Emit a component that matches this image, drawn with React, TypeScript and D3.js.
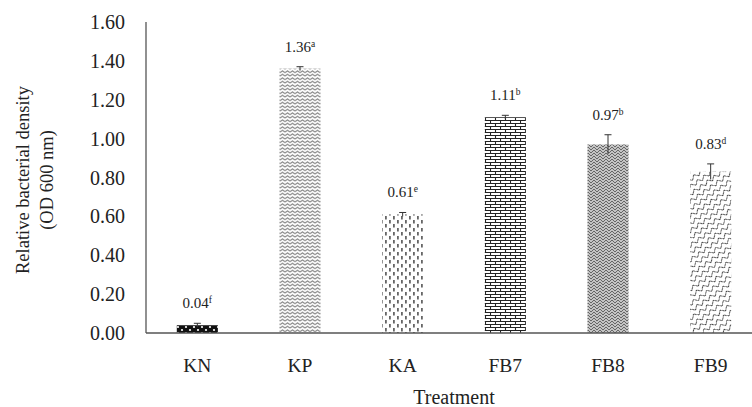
import * as d3 from 'd3';

const treatments = ['KN', 'KP', 'KA', 'FB7', 'FB8', 'FB9'];
const density = [0.04, 1.36, 0.61, 1.11, 0.97, 0.83];
const errors = [0.01, 0.01, 0.01, 0.01, 0.05, 0.04];
const letters = ['f', 'a', 'e', 'b', 'b', 'd'];
const yTicks = [0, 0.2, 0.4, 0.6, 0.8, 1.0, 1.2, 1.4, 1.6];

const W = 752;
const H = 407;
const font = '"Liberation Serif", "Times New Roman", serif';

const x = d3.scaleBand<string>().domain(treatments).range([146, 762]).paddingInner(0.6).paddingOuter(0.3);
const y = d3.scaleLinear().domain([0, 1.6]).range([333, 22]);
const fmt = d3.format('.2f');

function Patterns() {
  return (
    <defs>
      <pattern id="p0" width="8" height="6" patternUnits="userSpaceOnUse">
        <rect width="8" height="6" fill="#111" />
        <circle cx="2" cy="3" r="1.1" fill="#fff" />
        <circle cx="6" cy="0" r="1.1" fill="#fff" />
        <circle cx="6" cy="6" r="1.1" fill="#fff" />
      </pattern>
      <pattern id="p1" width="5" height="3.5" patternUnits="userSpaceOnUse">
        <rect width="5" height="3.5" fill="#fff" />
        <path d="M0,2.6 L2.5,0.9 L5,2.6" fill="none" stroke="#777" strokeWidth="1" />
      </pattern>
      <pattern id="p2" width="8" height="8" patternUnits="userSpaceOnUse">
        <rect width="8" height="8" fill="#fff" />
        <rect x="1" y="0" width="1.8" height="3.5" fill="#666" />
        <rect x="5" y="4" width="1.8" height="3.5" fill="#666" />
      </pattern>
      <pattern id="p3" width="10" height="6" patternUnits="userSpaceOnUse">
        <rect width="10" height="6" fill="#fff" />
        <path d="M0,0.5 H10 M0,3.5 H10 M0.5,0.5 V3.5 M5.5,3.5 V6.5" fill="none" stroke="#222" strokeWidth="1.1" />
      </pattern>
      <pattern id="p4" width="6" height="6" patternUnits="userSpaceOnUse">
        <rect width="6" height="6" fill="#c4c4c4" />
        <path d="M0,0 L3,3 L6,0 M0,3 L3,6 L6,3" fill="none" stroke="#666" strokeWidth="1" />
      </pattern>
      <pattern id="p5" width="8" height="6" patternUnits="userSpaceOnUse" patternTransform="rotate(-35)">
        <rect width="8" height="6" fill="#fff" />
        <path d="M0,5 L4,1 L8,5" fill="none" stroke="#444" strokeWidth="1" />
      </pattern>
    </defs>
  );
}

export default function App() {
  return (
    <svg width={W} height={H} style={{ position: 'absolute', left: 0, top: 0, background: '#fff' }} fontFamily={font}>
      <Patterns />
      {/* y axis labels */}
      {yTicks.map((t) => (
        <text key={t} x={125} y={y(t)} dy="0.35em" textAnchor="end" fontSize={20} fill="#222">
          {fmt(t)}
        </text>
      ))}
      <line x1={146} x2={146} y1={y(1.6)} y2={y(0)} stroke="#555" strokeWidth={1.3} />

      {/* bars */}
      {treatments.map((t, i) => {
        const bx = x(t) as number;
        const bw = x.bandwidth();
        const cx = bx + bw / 2;
        const top = y(density[i]);
        const errTop = y(density[i] + errors[i]);
        const errBot = y(density[i] - errors[i]);
        return (
          <g key={t}>
            <rect x={bx} y={top} width={bw} height={y(0) - top} fill={`url(#p${i})`} />
            <line x1={cx} x2={cx} y1={errTop} y2={errBot} stroke="#333" strokeWidth={1} />
            <line x1={cx - 3.5} x2={cx + 3.5} y1={errTop} y2={errTop} stroke="#333" strokeWidth={1} />
            <text x={cx} y={errTop - 15} textAnchor="middle" fontSize={15} fill="#222">
              {fmt(density[i])}
              <tspan fontSize={9.5} dy={-5}>{letters[i]}</tspan>
            </text>
            <text x={cx} y={365} dy="0.35em" textAnchor="middle" fontSize={19.5} fill="#222">
              {t}
            </text>
          </g>
        );
      })}
      <line x1={146} x2={W} y1={y(0)} y2={y(0)} stroke="#555" strokeWidth={1.3} />

      {/* axis titles */}
      <text x={454} y={397} dy="0.35em" textAnchor="middle" fontSize={20} fill="#222">
        Treatment
      </text>
      <g transform="translate(23,180) rotate(-90)">
        <text textAnchor="middle" dy="0.35em" fontSize={18.5} fill="#222">Relative bacterial density</text>
        <text textAnchor="middle" y={24} dy="0.35em" fontSize={18.5} fill="#222">(OD 600 nm)</text>
      </g>
    </svg>
  );
}
